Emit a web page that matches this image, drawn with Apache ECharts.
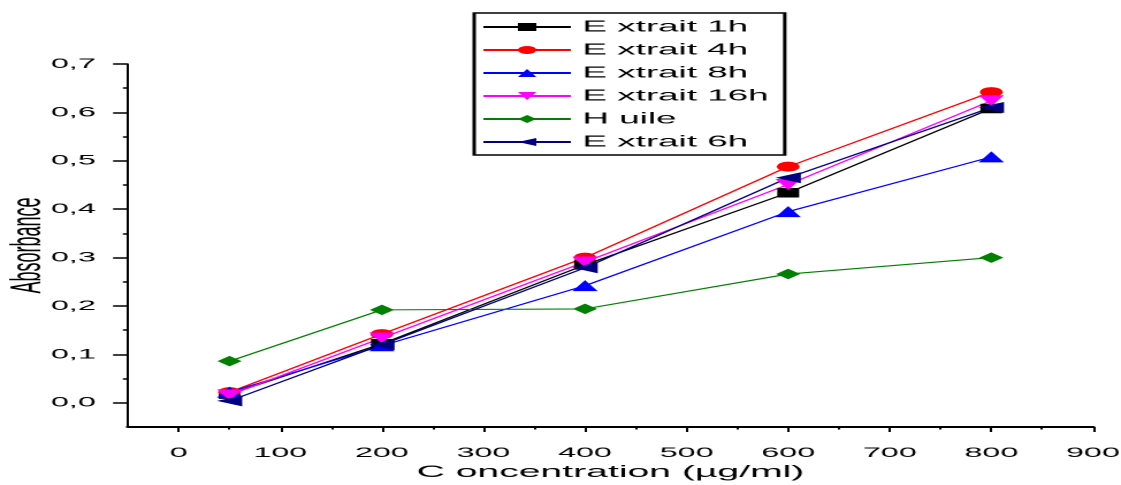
<!DOCTYPE html>
<html>
<head>
<meta charset="utf-8">
<script src="https://cdn.jsdelivr.net/npm/echarts@6/dist/echarts.min.js"></script>
<style>
html,body{margin:0;padding:0;background:#fff;}
#wrap{width:1121px;height:485px;overflow:hidden;position:relative;background:#fff;}
#chart{width:487px;height:485px;transform:scaleX(2.3018);transform-origin:0 0;}
</style>
</head>
<body>
<div id="wrap"><div id="chart"></div></div>
<script>
// ---- data ----
var concentrations = [50, 200, 400, 600, 800];
var extrait1h  = [0.018, 0.122, 0.285, 0.434, 0.608];
var extrait4h  = [0.022, 0.142, 0.300, 0.488, 0.642];
var extrait8h  = [0.022, 0.118, 0.242, 0.395, 0.508];
var extrait16h = [0.016, 0.134, 0.291, 0.451, 0.624];
var huile      = [0.086, 0.192, 0.194, 0.266, 0.300];
var extrait6h  = [0.004, 0.120, 0.279, 0.465, 0.610];
var seriesNames = ['E xtrait 1h', 'E xtrait 4h', 'E xtrait 8h', 'E xtrait 16h', 'H uile', 'E xtrait 6h'];
var xTickLabels = [0, 100, 200, 300, 400, 500, 600, 700, 800, 900];
var xMinorTicks = [50, 150, 250, 350, 450, 550, 650, 750, 850];
var yTickLabels = [0, 0.1, 0.2, 0.3, 0.4, 0.5, 0.6, 0.7];
var yMinorTicks = [0.05, 0.15, 0.25, 0.35, 0.45, 0.55, 0.65];

var FONT = 'Liberation Sans, Arial, sans-serif';
function pairs(ys){ return concentrations.map(function(x,i){ return [x, ys[i]]; }); }

var styles = [
  {color:'#000000', symbol:'rect', size:9.5, rot:0},
  {color:'#ff0000', symbol:'circle', size:10, rot:0},
  {color:'#0000ff', symbol:'triangle', size:11, rot:0},
  {color:'#ff00ff', symbol:'triangle', size:11, rot:180},
  {color:'#008000', symbol:'diamond', size:10.5, rot:0},
  {color:'#000080', symbol:'triangle', size:11, rot:90}
];
var datasets = [extrait1h, extrait4h, extrait8h, extrait16h, huile, extrait6h];

var series = datasets.map(function(d, i){
  var s = styles[i];
  return {
    name: seriesNames[i], type:'line', data: pairs(d),
    symbol: s.symbol, symbolSize: s.size, symbolRotate: s.rot,
    lineStyle:{color:s.color, width:1.1}, itemStyle:{color:s.color},
    emphasis:{disabled:true}, animation:false, z: 2
  };
});

var chart = echarts.init(document.getElementById('chart'), null, {renderer:'canvas', devicePixelRatio:2});
chart.setOption({
  backgroundColor:'#ffffff',
  animation:false,
  grid:{left:55.6, right:12.2, top:64, bottom:58, containLabel:false, outerBoundsMode:'none'},
  legend:{
    orient:'vertical', left:206, top:13,
    itemWidth:38, itemHeight:10, itemGap:7,
    padding:[6,7,5,3],
    borderColor:'#000', borderWidth:1.5,
    textStyle:{fontFamily:FONT, fontSize:16, color:'#000', lineHeight:16},
    data: seriesNames
  },
  xAxis:[{
    type:'value', min:-50, max:900, interval:50,
    name:'C oncentration (µg/ml)', nameLocation:'middle', nameGap:37, nameMoveOverlap:false,
    nameTextStyle:{fontFamily:FONT, fontSize:17, color:'#000'},
    axisLine:{show:true, onZero:false, lineStyle:{color:'#000', width:2}},
    axisTick:{show:true, customValues:xTickLabels, length:5, lineStyle:{color:'#000', width:1}},
    axisLabel:{customValues:xTickLabels, margin:19, fontFamily:FONT, fontSize:14, color:'#000'},
    splitLine:{show:false}
  },{
    type:'value', min:-50, max:900, interval:50, position:'bottom',
    axisLine:{show:false, onZero:false}, axisLabel:{show:false}, splitLine:{show:false},
    axisTick:{show:true, customValues:xMinorTicks, length:2.5, lineStyle:{color:'#000', width:1}}
  }],
  yAxis:[{
    type:'value', min:-0.05, max:0.7, interval:0.05,
    name:'Absorbance', nameLocation:'middle', nameGap:34, nameMoveOverlap:false,
    nameTextStyle:{fontFamily:FONT, fontSize:18, color:'#000'},
    axisLine:{show:true, onZero:false, lineStyle:{color:'#000', width:1}},
    axisTick:{show:true, customValues:yTickLabels, length:6.5, lineStyle:{color:'#000', width:1.5}},
    axisLabel:{customValues:yTickLabels, margin:14, fontFamily:FONT, fontSize:14, color:'#000',
      formatter:function(v){ return v.toFixed(1).replace('.', ','); }},
    splitLine:{show:false}
  },{
    type:'value', min:-0.05, max:0.7, interval:0.05, position:'left',
    axisLine:{show:false, onZero:false}, axisLabel:{show:false}, splitLine:{show:false},
    axisTick:{show:true, customValues:yMinorTicks, length:2.2, lineStyle:{color:'#000', width:1.5}}
  }],
  series: series
});
</script>
</body>
</html>
